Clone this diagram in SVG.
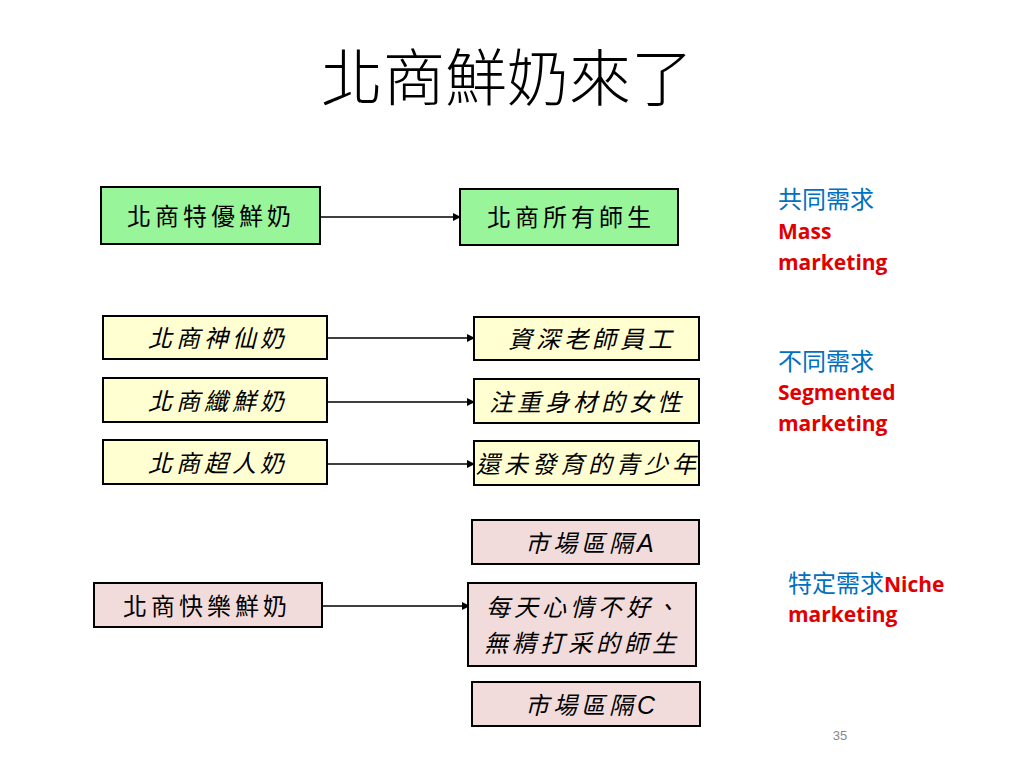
<svg xmlns="http://www.w3.org/2000/svg" width="1024" height="768" viewBox="0 0 1024 768">
<style>
.box{stroke:#000;stroke-width:2}
.g{fill:#99F599}
.y{fill:#FFFFD2}
.p{fill:#F2DCDB}
.t{font-family:"Noto Sans CJK TC","Noto Sans CJK SC",sans-serif;font-size:24px;letter-spacing:4px;fill:#000}
.i{font-style:italic}
.blue{font-family:"Noto Sans CJK TC",sans-serif;font-size:24px;fill:#0070C0}
.red{font-family:"Open Sans","Liberation Sans",sans-serif;font-weight:bold;font-size:21px;fill:#E00000}
.c{stroke:#000;stroke-width:1.5;fill:none}
</style>
<defs>
<marker id="ah" markerWidth="8" markerHeight="8" refX="7" refY="4" orient="auto" markerUnits="userSpaceOnUse">
<path d="M0,0 L8,4 L0,8 z" fill="#000"/>
</marker>
</defs>
<rect width="1024" height="768" fill="#fff"/>
<text x="507" y="101" text-anchor="middle" font-family="Noto Sans CJK TC, sans-serif" font-size="62" font-weight="300" fill="#000">北商鮮奶來了</text>

<g id="connectors">
<line class="c" x1="320" y1="217" x2="460" y2="217" marker-end="url(#ah)"/>
<line class="c" x1="327" y1="338" x2="474" y2="338" marker-end="url(#ah)"/>
<line class="c" x1="327" y1="402" x2="474" y2="402" marker-end="url(#ah)"/>
<line class="c" x1="327" y1="464" x2="474" y2="464" marker-end="url(#ah)"/>
<line class="c" x1="322" y1="606" x2="469" y2="606" marker-end="url(#ah)"/>
</g>

<g id="n1"><rect class="box g" x="101" y="187" width="219" height="57"/><text class="t" x="127" y="225">北商特優鮮奶</text></g>
<g id="n2"><rect class="box g" x="460" y="189" width="218" height="56"/><text class="t" x="487" y="226">北商所有師生</text></g>

<g id="n3"><rect class="box y" x="103" y="316" width="224" height="43"/><text class="t i" x="148" y="347">北商神仙奶</text></g>
<g id="n4"><rect class="box y" x="103" y="378" width="224" height="44"/><text class="t i" x="148" y="410">北商纖鮮奶</text></g>
<g id="n5"><rect class="box y" x="103" y="440" width="224" height="44"/><text class="t i" x="148" y="472">北商超人奶</text></g>
<g id="n6"><rect class="box y" x="474" y="317" width="225" height="43"/><text class="t i" x="508" y="348">資深老師員工</text></g>
<g id="n7"><rect class="box y" x="474" y="379" width="225" height="44"/><text class="t i" x="489" y="411">注重身材的女性</text></g>
<g id="n8"><rect class="box y" x="474" y="441" width="225" height="44"/><text class="t i" x="476" y="473">還未發育的青少年</text></g>

<g id="n9"><rect class="box p" x="472" y="520" width="227" height="44"/><text class="t i" x="525" y="552">市場區隔<tspan font-family="Liberation Sans, sans-serif" font-size="25">A</tspan></text></g>
<g id="n10"><rect class="box p" x="94" y="583" width="228" height="44"/><text class="t" x="123" y="615">北商快樂鮮奶</text></g>
<g id="n11"><rect class="box p" x="468" y="583" width="228" height="83"/><text class="t i" x="486" y="616">每天心情不好、</text><text class="t i" x="484" y="652">無精打采的師生</text></g>
<g id="n12"><rect class="box p" x="472" y="682" width="228" height="44"/><text class="t i" x="525" y="714">市場區隔<tspan font-family="Liberation Sans, sans-serif" font-size="25">C</tspan></text></g>

<g id="labels">
<text class="blue" x="778" y="208">共同需求</text>
<text class="red" x="778" y="239">Mass</text>
<text class="red" x="778" y="270">marketing</text>
<text class="blue" x="778" y="370">不同需求</text>
<text class="red" x="778" y="400">Segmented</text>
<text class="red" x="778" y="431">marketing</text>
<text x="788" y="592"><tspan class="blue">特定需求</tspan><tspan class="red">Niche</tspan></text>
<text class="red" x="788" y="622">marketing</text>
<text x="840" y="740" text-anchor="middle" font-family="Liberation Sans, sans-serif" font-size="13" fill="#888">35</text>
</g>
</svg>
